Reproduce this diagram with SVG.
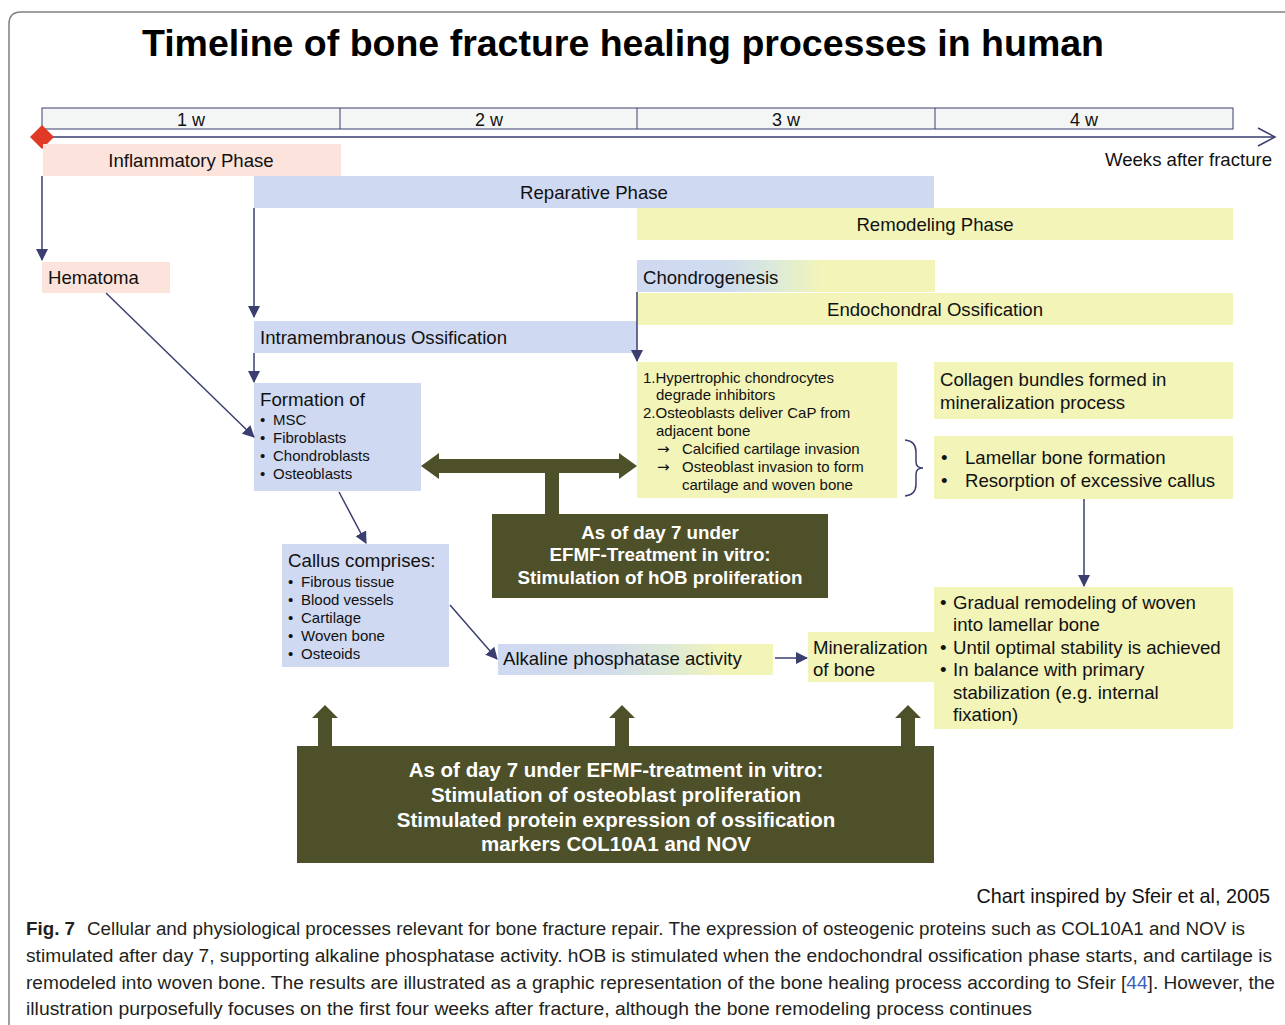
<svg xmlns="http://www.w3.org/2000/svg" width="1285" height="1025" viewBox="0 0 1285 1025">
<style>
.t{font-family:"Liberation Sans",Arial,sans-serif;fill:#111}
.s17{font-size:18.6px}
.s14{font-size:15px}
.s18{font-size:18.7px}
.wb{font-family:"Liberation Sans",Arial,sans-serif;font-weight:bold;fill:#fff;text-anchor:middle}
.pink{fill:#fce3dc}
.blue{fill:#cfd9f1}
.yel{fill:#f2f4b8}
.olive{fill:#4d5029}
.con{stroke:#3b3f70;stroke-width:1.5;fill:none}
.cap{font-family:"Liberation Sans",Arial,sans-serif;font-size:18px;fill:#231f20}
</style>
<defs>
<marker id="ah" markerUnits="userSpaceOnUse" markerWidth="12" markerHeight="12" refX="11" refY="6" orient="auto">
<path d="M0,0 L12,6 L0,12 z" fill="#3b3f70"/>
</marker>
<linearGradient id="g1" x1="0" y1="0" x2="1" y2="0">
<stop offset="0" stop-color="#cfd9f1"/>
<stop offset="0.3" stop-color="#cfdcee"/>
<stop offset="0.45" stop-color="#dbe9dc"/>
<stop offset="0.62" stop-color="#f2f4b8"/>
<stop offset="1" stop-color="#f2f4b8"/>
</linearGradient>
<linearGradient id="g2" x1="0" y1="0" x2="1" y2="0">
<stop offset="0" stop-color="#cfd9f1"/>
<stop offset="0.4" stop-color="#d2dceb"/>
<stop offset="0.62" stop-color="#dde9d6"/>
<stop offset="0.82" stop-color="#f2f4b8"/>
<stop offset="1" stop-color="#f2f4b8"/>
</linearGradient>
</defs>
<rect width="1285" height="1025" fill="#fff"/>
<path d="M9,1025 L9,24 Q9,12 21,12 L1285,12" fill="none" stroke="#808080" stroke-width="1.5"/>
<text x="623" y="56" font-family="Liberation Sans,Arial,sans-serif" font-weight="bold" font-size="37.5" text-anchor="middle" fill="#000">Timeline of bone fracture healing processes in human</text>

<g id="timeline">
<rect x="42" y="108" width="1191" height="21" fill="#f4f6f5" stroke="#3b3f70" stroke-width="1"/>
<line x1="340" y1="108" x2="340" y2="129" stroke="#3b3f70"/>
<line x1="637" y1="108" x2="637" y2="129" stroke="#3b3f70"/>
<line x1="935" y1="108" x2="935" y2="129" stroke="#3b3f70"/>
<text class="t" font-size="18" x="191" y="126" text-anchor="middle">1 w</text>
<text class="t" font-size="18" x="489" y="126" text-anchor="middle">2 w</text>
<text class="t" font-size="18" x="786" y="126" text-anchor="middle">3 w</text>
<text class="t" font-size="18" x="1084" y="126" text-anchor="middle">4 w</text>
<line x1="42" y1="137" x2="1275" y2="137" stroke="#3b3f70" stroke-width="1.5"/>
<path d="M1258,128 L1275,137 L1258,146" fill="none" stroke="#3b3f70" stroke-width="1.5"/>
<text class="t s17" x="1272" y="166" text-anchor="end">Weeks after fracture</text>
<path d="M42,125 L54,137 L42,149 L30,137 z" fill="#e03a26"/>
</g>

<g id="inflammatory"><rect class="pink" x="43" y="144" width="298" height="32"/><text class="t s17" x="191" y="167" text-anchor="middle">Inflammatory Phase</text></g>
<g id="reparative"><rect class="blue" x="254" y="176" width="680" height="32"/><text class="t s17" x="594" y="199" text-anchor="middle">Reparative Phase</text></g>
<g id="remodeling"><rect class="yel" x="637" y="208" width="596" height="32"/><text class="t s17" x="935" y="231" text-anchor="middle">Remodeling Phase</text></g>
<g id="hematoma"><rect class="pink" x="42" y="262" width="128" height="31"/><text class="t s17" x="48" y="284">Hematoma</text></g>
<g id="chondrogenesis"><rect fill="url(#g1)" x="637" y="260" width="298" height="32"/><text class="t s17" x="643" y="284">Chondrogenesis</text></g>
<g id="endochondral"><rect class="yel" x="638" y="293" width="595" height="32"/><text class="t s17" x="935" y="316" text-anchor="middle">Endochondral Ossification</text></g>
<g id="intramembranous"><rect class="blue" x="254" y="321" width="383" height="32"/><text class="t s17" x="260" y="344">Intramembranous Ossification</text></g>

<g id="formation"><rect class="blue" x="254" y="383" width="167" height="108"/>
<text class="t s18" x="260" y="406">Formation of</text>
<text class="t s14" x="260" y="425">•</text><text class="t s14" x="273" y="425">MSC</text>
<text class="t s14" x="260" y="443">•</text><text class="t s14" x="273" y="443">Fibroblasts</text>
<text class="t s14" x="260" y="461">•</text><text class="t s14" x="273" y="461">Chondroblasts</text>
<text class="t s14" x="260" y="479">•</text><text class="t s14" x="273" y="479">Osteoblasts</text>
</g>

<g id="endo-steps"><rect class="yel" x="637" y="362" width="260" height="136"/>
<text class="t s14" x="643" y="383">1.Hypertrophic chondrocytes</text>
<text class="t s14" x="656" y="400">degrade inhibitors</text>
<text class="t s14" x="643" y="418">2.Osteoblasts deliver CaP from</text>
<text class="t s14" x="656" y="436">adjacent bone</text>
<text font-family="DejaVu Sans,sans-serif" font-size="15" fill="#111" x="657" y="454">→</text><text class="t s14" x="682" y="454">Calcified cartilage invasion</text>
<text font-family="DejaVu Sans,sans-serif" font-size="15" fill="#111" x="657" y="472">→</text><text class="t s14" x="682" y="472">Osteoblast invasion to form</text>
<text class="t s14" x="682" y="490">cartilage and woven bone</text>
</g>

<g id="collagen"><rect class="yel" x="934" y="362" width="299" height="57"/>
<text class="t s17" x="940" y="386">Collagen bundles formed in</text>
<text class="t s17" x="940" y="409">mineralization process</text>
</g>

<g id="lamellar"><rect class="yel" x="934" y="436" width="299" height="63"/>
<text class="t s17" x="941" y="464">•</text><text class="t s17" x="965" y="464">Lamellar bone formation</text>
<text class="t s17" x="941" y="487">•</text><text class="t s17" x="965" y="487">Resorption of excessive callus</text>
</g>

<g id="gradual"><rect class="yel" x="934" y="587" width="299" height="142"/>
<text class="t s17" x="940" y="609">•</text><text class="t s17" x="953" y="609">Gradual remodeling of woven</text>
<text class="t s17" x="953" y="631">into lamellar bone</text>
<text class="t s17" x="940" y="654">•</text><text class="t s17" x="953" y="654">Until optimal stability is achieved</text>
<text class="t s17" x="940" y="676">•</text><text class="t s17" x="953" y="676">In balance with primary</text>
<text class="t s17" x="953" y="699">stabilization (e.g. internal</text>
<text class="t s17" x="953" y="721">fixation)</text>
</g>

<g id="callus"><rect class="blue" x="282" y="544" width="167" height="123"/>
<text class="t s18" x="288" y="567">Callus comprises:</text>
<text class="t s14" x="288" y="587">•</text><text class="t s14" x="301" y="587">Fibrous tissue</text>
<text class="t s14" x="288" y="605">•</text><text class="t s14" x="301" y="605">Blood vessels</text>
<text class="t s14" x="288" y="623">•</text><text class="t s14" x="301" y="623">Cartilage</text>
<text class="t s14" x="288" y="641">•</text><text class="t s14" x="301" y="641">Woven bone</text>
<text class="t s14" x="288" y="659">•</text><text class="t s14" x="301" y="659">Osteoids</text>
</g>

<g id="alkaline"><rect fill="url(#g2)" x="498" y="644" width="275" height="31"/><text class="t s17" x="503" y="665">Alkaline phosphatase activity</text></g>
<g id="mineralization"><rect class="yel" x="808" y="632" width="126" height="50"/>
<text class="t s17" x="813" y="654">Mineralization</text>
<text class="t s17" x="813" y="676">of bone</text>
</g>

<g id="hob-box"><rect class="olive" x="492" y="514" width="336" height="84"/>
<text class="wb" font-size="18.8" x="660" y="539">As of day 7 under</text>
<text class="wb" font-size="18.8" x="660" y="561">EFMF-Treatment in vitro:</text>
<text class="wb" font-size="18.8" x="660" y="584">Stimulation of hOB proliferation</text>
</g>

<g id="bottom-box"><rect class="olive" x="297" y="746" width="637" height="117"/>
<text class="wb" font-size="20.5" x="616" y="777">As of day 7 under EFMF-treatment in vitro:</text>
<text class="wb" font-size="20.5" x="616" y="802">Stimulation of osteoblast proliferation</text>
<text class="wb" font-size="20.5" x="616" y="827">Stimulated protein expression of ossification</text>
<text class="wb" font-size="20.5" x="616" y="851">markers COL10A1 and NOV</text>
</g>

<g id="connectors">
<line class="con" x1="42" y1="176" x2="42" y2="260" marker-end="url(#ah)"/>
<line class="con" x1="254" y1="208" x2="254" y2="317" marker-end="url(#ah)"/>
<line class="con" x1="637" y1="292" x2="637" y2="361" marker-end="url(#ah)"/>
<line class="con" x1="254" y1="353" x2="254" y2="382" marker-end="url(#ah)"/>
<line class="con" x1="106" y1="293" x2="254" y2="437" marker-end="url(#ah)"/>
<line class="con" x1="339" y1="492" x2="366" y2="543" marker-end="url(#ah)"/>
<line class="con" x1="450" y1="605" x2="497" y2="659" marker-end="url(#ah)"/>
<line class="con" x1="775" y1="658" x2="807" y2="658" marker-end="url(#ah)"/>
<line class="con" x1="1084" y1="499" x2="1084" y2="586" marker-end="url(#ah)"/>
<path class="con" stroke-width="2" d="M905,440 Q916,441 916,452 L916,462 Q916,468 923,468 Q916,468 916,474 L916,484 Q916,495 905,496"/>
<path class="olive" d="M421,466 L439,453 L439,459 L619,459 L619,453 L637,466 L619,479 L619,473 L559,473 L559,514 L545,514 L545,473 L439,473 L439,479 z"/>
<path class="olive" d="M325,705 L338,718 L332,718 L332,746 L318,746 L318,718 L312,718 z"/>
<path class="olive" d="M622,705 L635,718 L629,718 L629,746 L615,746 L615,718 L609,718 z"/>
<path class="olive" d="M908,705 L921,718 L915,718 L915,746 L901,746 L901,718 L895,718 z"/>
</g>

<text class="t" font-size="19.8" x="1270" y="903" text-anchor="end">Chart inspired by Sfeir et al, 2005</text>
<g id="caption">
<text class="cap" x="26" y="935" font-weight="bold" textLength="49" lengthAdjust="spacingAndGlyphs">Fig. 7</text>
<text class="cap" x="87" y="935" textLength="1158" lengthAdjust="spacingAndGlyphs">Cellular and physiological processes relevant for bone fracture repair. The expression of osteogenic proteins such as COL10A1 and NOV is</text>
<text class="cap" x="26" y="962" textLength="1246" lengthAdjust="spacingAndGlyphs">stimulated after day 7, supporting alkaline phosphatase activity. hOB is stimulated when the endochondral ossification phase starts, and cartilage is</text>
<text class="cap" x="26" y="989" textLength="1249" lengthAdjust="spacingAndGlyphs">remodeled into woven bone. The results are illustrated as a graphic representation of the bone healing process according to Sfeir [<tspan fill="#3b5fc0">44</tspan>]. However, the</text>
<text class="cap" x="26" y="1015" textLength="1006" lengthAdjust="spacingAndGlyphs">illustration purposefully focuses on the first four weeks after fracture, although the bone remodeling process continues</text>
</g>
</svg>
